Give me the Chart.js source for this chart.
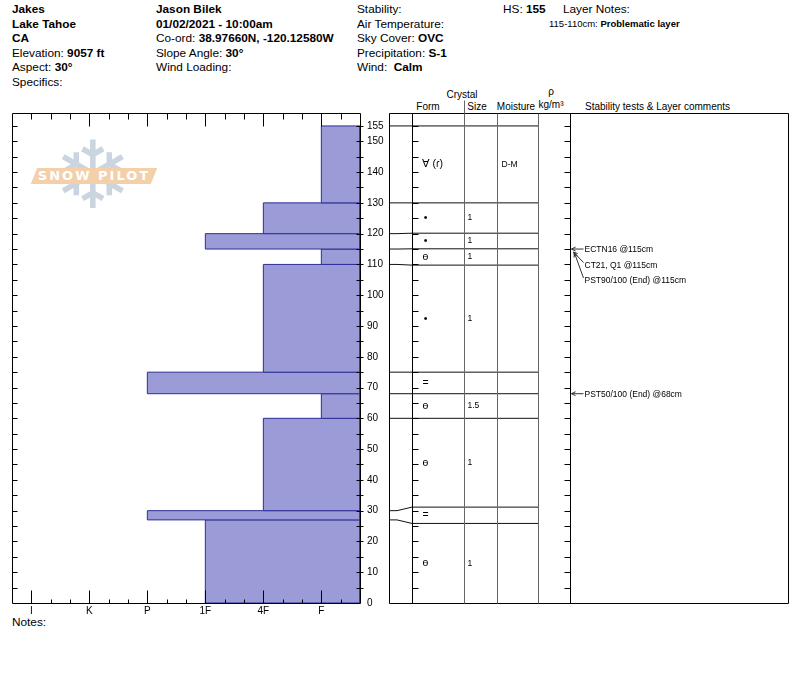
<!DOCTYPE html>
<html><head><meta charset="utf-8">
<script src="https://cdn.jsdelivr.net/npm/chart.js@4.4.1/dist/chart.umd.min.js"></script>
<style>
body{margin:0;background:#fff;width:800px;height:676px;overflow:hidden;position:relative;font-family:"Liberation Sans",Arial,Helvetica,sans-serif;color:#000}
.t{position:absolute;white-space:nowrap;font-size:11.8px;line-height:14.5px}
.h{position:absolute;font-size:10px;line-height:12px;white-space:nowrap;transform:translate(-50%,-50%)}
.hl{position:absolute;font-size:10px;line-height:12px;white-space:nowrap;transform:translate(0,-50%)}
canvas{position:absolute;left:0;top:0}
#flake{position:absolute;left:52px;top:124px;width:82px;text-align:center;font-family:"DejaVu Sans";font-size:94px;line-height:104px;color:#cbd5df}
#banner{position:absolute;left:34px;top:168px;width:120px;height:16px;background:#f3cfaa;transform:skewX(-22deg)}
#bannerText{position:absolute;left:34px;top:168px;width:120px;height:16px;line-height:16px;text-align:center;color:#fff;font-weight:bold;font-size:13px;letter-spacing:2px;font-family:"DejaVu Sans"}
</style></head><body>
<div id="flake">❄</div>
<div id="banner"></div>
<div id="bannerText">SNOW PILOT</div>

<div class="t" style="left:12px;top:2px"><b>Jakes</b><br><b>Lake Tahoe</b><br><b>CA</b><br>Elevation: <b>9057 ft</b><br>Aspect: <b>30°</b><br>Specifics:</div>
<div class="t" style="left:156px;top:2px"><b>Jason Bilek</b><br><b>01/02/2021 - 10:00am</b><br>Co-ord: <b>38.97660N, -120.12580W</b><br>Slope Angle: <b>30°</b><br>Wind Loading:</div>
<div class="t" style="left:357px;top:2px">Stability:<br>Air Temperature:<br>Sky Cover: <b>OVC</b><br>Precipitation: <b>S-1</b><br>Wind:&nbsp; <b>Calm</b></div>
<div class="t" style="left:503px;top:2px">HS: <b>155</b></div>
<div class="t" style="left:563px;top:2px">Layer Notes:</div>
<div class="t" style="left:549px;top:17px;font-size:9.5px">115-110cm: <b>Problematic layer</b></div>

<div class="h" style="left:462px;top:95px">Crystal</div>
<div class="h" style="left:428px;top:107px">Form</div>
<div class="h" style="left:477px;top:107px">Size</div>
<div class="h" style="left:516px;top:107px">Moisture</div>
<div class="h" style="left:551px;top:92px">ρ</div>
<div class="h" style="left:551px;top:105px">kg/m³</div>
<div class="hl" style="left:585px;top:107px">Stability tests &amp; Layer comments</div>
<div class="t" style="left:12px;top:615px">Notes:</div>

<canvas id="c1" width="800" height="676"></canvas>
<canvas id="c2" width="800" height="676"></canvas>
<script>
// ---- data ----
const layerTop    = [155, 130, 120, 115, 110, 75, 68, 60, 30, 27];
const layerBottom = [130, 120, 115, 110, 75, 68, 60, 30, 27, 0];
const hardness    = ['F', '4F', '1F', 'F', '4F', 'P', 'F', '4F', 'P', '1F'];
const grainForm   = ['∀ (ɾ)', '•', '•', 'ө', '•', '=', 'ө', 'ө', '=', 'ө'];
const grainSize   = ['', '1', '1', '1', '1', '', '1.5', '1', '', '1'];
const moisture    = ['D-M', '', '', '', '', '', '', '', '', ''];
const hardnessLabels = ['I', 'K', 'P', '1F', '4F', 'F'];
const depthTickValues = [0, 10, 20, 30, 40, 50, 60, 70, 80, 90, 100, 110, 120, 130, 140, 150, 155];
const testResults = ['ECTN16 @115cm', 'CT21, Q1 @115cm', 'PST90/100 (End) @115cm', 'PST50/100 (End) @68cm'];
const testDepths  = [115, 115, 115, 68];

// ---- layout ----
const FONT = '"Liberation Sans", Arial, Helvetica, sans-serif';
const Y_MAX = 159.2, HARD_MAX = 18;
const hardValue = h => 1 + 3 * hardnessLabels.indexOf(h);
const COL = {depth: 0, form: 23, size: 75, moist: 108, dens: 149, comm: 181, end: 399};
const MIN_GAP = 5.3;

const bounds = layerTop.concat([layerBottom[layerBottom.length - 1]]);
function displayDepths(b, g) {
  const d = b.slice();
  for (let i = 0; i < d.length - 1; i++) {
    if (d[i] - d[i + 1] < g) { const m = (d[i] + d[i + 1]) / 2; d[i] = m + g / 2; d[i + 1] = m - g / 2; }
  }
  return d;
}
const disp = displayDepths(bounds, MIN_GAP);

// ---- chart 1: hardness profile ----
const layerDatasets = layerTop.map((top, i) => {
  const bot = layerBottom[i], hv = hardValue(hardness[i]);
  return {
    data: [{x: HARD_MAX, y: bot}, {x: hv, y: bot}, {x: hv, y: top}, {x: HARD_MAX, y: top}, {x: HARD_MAX, y: bot}],
    showLine: true, fill: 'shape', backgroundColor: '#9b9bd7', borderColor: '#2e2e99',
    borderWidth: 1, pointRadius: 0, tension: 0
  };
});

const hardFrame = {
  id: 'hardFrame',
  afterDatasetsDraw(chart) {
    const {ctx, chartArea: a, scales: {x, y}} = chart;
    ctx.save(); ctx.strokeStyle = '#000'; ctx.lineWidth = 1;
    const L = Math.round(a.left) + .5, R = Math.round(a.right) + .5, T = Math.round(a.top) + .5, B = Math.round(a.bottom) + .5;
    ctx.beginPath();
    ctx.rect(L, T, R - L, B - T);
    for (let v = 1; v < HARD_MAX; v++) {
      const px = Math.round(x.getPixelForValue(v)) + .5;
      const majorB = (v - 1) % 3 === 0, majorT = majorB && v > 1;
      ctx.moveTo(px, B); ctx.lineTo(px, B - (majorB ? 13 : 4));
      ctx.moveTo(px, T); ctx.lineTo(px, T + (majorT ? 13 : 6));
    }
    for (let d = 5; d <= 155; d += 5) {
      const py = Math.round(y.getPixelForValue(d)) + .5;
      ctx.moveTo(L, py); ctx.lineTo(L + 5, py);
      ctx.moveTo(R - 4, py); ctx.lineTo(R + 3, py);
    }
    ctx.stroke(); ctx.restore();
  }
};

new Chart(document.getElementById('c1'), {
  type: 'scatter',
  data: {datasets: layerDatasets},
  options: {
    responsive: false, animation: false,
    layout: {padding: {left: 12, top: 113, right: 411, bottom: 53}},
    plugins: {legend: {display: false}, tooltip: {enabled: false}},
    scales: {
      x: {
        type: 'linear', min: 0, max: HARD_MAX, position: 'bottom',
        afterBuildTicks: s => { s.ticks = hardnessLabels.map((l, i) => ({value: 1 + 3 * i})); },
        afterFit: s => { s.height = 20; },
        ticks: {callback: (v, i) => hardnessLabels[i], padding: 2.5, autoSkip: false, maxRotation: 0,
                font: {size: 10, family: FONT}, color: '#000'},
        grid: {display: false, drawTicks: false}, border: {display: false}
      },
      y: {
        type: 'linear', min: 0, max: Y_MAX, position: 'right',
        afterBuildTicks: s => { s.ticks = depthTickValues.map(v => ({value: v})); },
        afterFit: s => { s.width = 29; },
        ticks: {callback: v => String(v), padding: 7, autoSkip: false,
                font: {size: 10, family: FONT}, color: '#000'},
        grid: {display: false, drawTicks: false}, border: {display: false}
      }
    }
  },
  plugins: [hardFrame]
});

// ---- chart 2: layer table ----
const boundaryDatasets = bounds.slice(0, bounds.length - 1).map((b, i) => ({
  data: [{x: COL.depth, y: b}, {x: COL.depth + 8, y: b}, {x: COL.form, y: disp[i]}, {x: COL.dens, y: disp[i]}],
  showLine: true, fill: false, borderColor: '#111', borderWidth: 1, pointRadius: 0, tension: 0
}));

function arrow(ctx, x1, y1, x2, y2) {
  ctx.moveTo(x1, y1); ctx.lineTo(x2, y2);
  const ang = Math.atan2(y2 - y1, x2 - x1), hl = 4.5, sp = 0.45;
  ctx.moveTo(x2, y2); ctx.lineTo(x2 - hl * Math.cos(ang - sp), y2 - hl * Math.sin(ang - sp));
  ctx.moveTo(x2, y2); ctx.lineTo(x2 - hl * Math.cos(ang + sp), y2 - hl * Math.sin(ang + sp));
}

const tablePlugin = {
  id: 'tablePlugin',
  afterDatasetsDraw(chart) {
    const {ctx, chartArea: a, scales: {x, y}} = chart;
    const X = v => Math.round(x.getPixelForValue(v)) + .5;
    const T = Math.round(a.top) + .5, B = Math.round(a.bottom) + .5;
    ctx.save(); ctx.lineWidth = 1;
    // frame
    ctx.strokeStyle = '#000';
    ctx.beginPath();
    ctx.moveTo(X(COL.depth), T); ctx.lineTo(X(COL.end), T);
    ctx.moveTo(X(COL.depth), B); ctx.lineTo(X(COL.end), B);
    [COL.depth, COL.form, COL.comm, COL.end].forEach(c => { ctx.moveTo(X(c), T); ctx.lineTo(X(c), B); });
    for (let d = 5; d <= 155; d += 5) {
      const py = Math.round(y.getPixelForValue(d)) + .5;
      ctx.moveTo(X(COL.form), py); ctx.lineTo(X(COL.form) + 6, py);
      ctx.moveTo(X(COL.comm), py); ctx.lineTo(X(COL.comm) - 6, py);
    }
    ctx.stroke();
    ctx.strokeStyle = '#666';
    ctx.beginPath();
    [COL.size, COL.moist, COL.dens].forEach(c => { ctx.moveTo(X(c), T); ctx.lineTo(X(c), B); });
    ctx.moveTo(X(COL.size), T - 13); ctx.lineTo(X(COL.size), T);
    ctx.stroke();

    // cells
    ctx.fillStyle = '#000'; ctx.textBaseline = 'middle';
    layerTop.forEach((t, i) => {
      const yc = (y.getPixelForValue(disp[i]) + y.getPixelForValue(disp[i + 1])) / 2;
      const f = grainForm[i];
      ctx.font = '10.5px ' + FONT;
      if (f.length > 1) { ctx.textAlign = 'left'; ctx.fillText(f, X(COL.form) + 9, yc); }
      else { ctx.textAlign = 'center'; ctx.fillText(f, X(COL.form) + 13, yc); }
      ctx.font = '8.5px ' + FONT; ctx.textAlign = 'left';
      if (grainSize[i]) ctx.fillText(grainSize[i], X(COL.size) + 3, yc);
      if (moisture[i]) ctx.fillText(moisture[i], X(COL.moist) + 4, yc);
    });

    // stability tests
    ctx.font = '8.5px ' + FONT; ctx.textAlign = 'left';
    ctx.strokeStyle = '#333';
    ctx.beginPath();
    let prev = null, k = 0;
    testResults.forEach((txt, i) => {
      k = (prev === testDepths[i]) ? k + 1 : 0;
      prev = testDepths[i];
      const dy = y.getPixelForValue(testDepths[i]);
      const ty = dy + 1 + 15.5 * k;
      const tx = X(COL.comm) + 14;
      ctx.fillText(txt, tx, ty);
      if (k === 0) arrow(ctx, tx - 1, dy, X(COL.comm) + 1, dy);
      else arrow(ctx, tx - 1, ty - 3, X(COL.comm) + 2 + k, dy + 2 + k);
    });
    ctx.stroke();
    ctx.restore();
  }
};

new Chart(document.getElementById('c2'), {
  type: 'scatter',
  data: {datasets: boundaryDatasets},
  options: {
    responsive: false, animation: false,
    layout: {padding: {left: 389, top: 113, right: 12, bottom: 73}},
    plugins: {legend: {display: false}, tooltip: {enabled: false}},
    scales: {
      x: {type: 'linear', min: 0, max: COL.end, display: false},
      y: {type: 'linear', min: 0, max: Y_MAX, display: false}
    }
  },
  plugins: [tablePlugin]
});
</script>
</body></html>
